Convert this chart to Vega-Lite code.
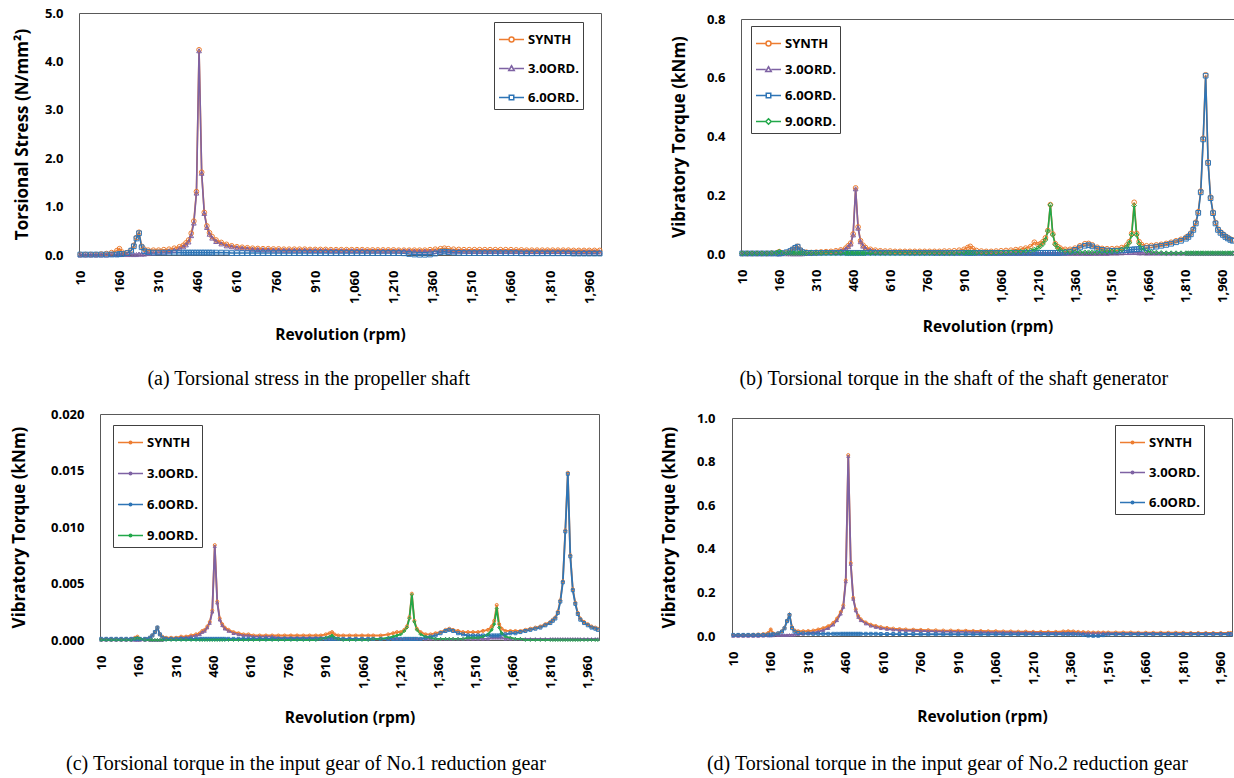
{
"$schema": "https://vega.github.io/schema/vega-lite/v6.json",
"padding": {"left": 9, "top": 6, "right": 0, "bottom": 0},
"background": "white",
"vconcat": [
{"hconcat": [
{"width": 1, "height": 1, "data": {"values": []}, "mark": "point", "encoding": {}, "view": {"stroke": null}},
{"hconcat": [
{
"width": 522, "height": 242,
"data": {"values": [
{"r":10,"S":0.01,"T":0,"X":0.01},{"r":30,"S":0.01,"T":0,"X":0.01},{"r":50,"S":0.01,"T":0,"X":0.01},{"r":70,"S":0.01,"T":0,"X":0.01},{"r":90,"S":0.02,"T":0,"X":0.01},{"r":110,"S":0.03,"T":0,"X":0.01},{"r":130,"S":0.05,"T":0.01,"X":0.01},{"r":150,"S":0.09,"T":0.01,"X":0.01},{"r":160,"S":0.13,"T":0.01,"X":0.02},{"r":170,"S":0.06,"T":0.01,"X":0.02},{"r":190,"S":0.05,"T":0.01,"X":0.04},{"r":205,"S":0.1,"T":0.01,"X":0.09},{"r":215,"S":0.2,"T":0.01,"X":0.18},{"r":225,"S":0.36,"T":0.01,"X":0.34},{"r":235,"S":0.47,"T":0.02,"X":0.45},{"r":245,"S":0.18,"T":0.02,"X":0.16},{"r":255,"S":0.12,"T":0.02,"X":0.08},{"r":270,"S":0.1,"T":0.03,"X":0.06},{"r":290,"S":0.1,"T":0.04,"X":0.05},{"r":310,"S":0.1,"T":0.05,"X":0.05},{"r":330,"S":0.11,"T":0.06,"X":0.05},{"r":350,"S":0.12,"T":0.08,"X":0.05},{"r":370,"S":0.14,"T":0.1,"X":0.05},{"r":390,"S":0.17,"T":0.13,"X":0.05},{"r":405,"S":0.2,"T":0.17,"X":0.05},{"r":415,"S":0.25,"T":0.21,"X":0.05},{"r":425,"S":0.31,"T":0.27,"X":0.05},{"r":435,"S":0.45,"T":0.4,"X":0.05},{"r":445,"S":0.7,"T":0.66,"X":0.05},{"r":455,"S":1.31,"T":1.28,"X":0.05},{"r":465,"S":4.24,"T":4.22,"X":0.05},{"r":475,"S":1.71,"T":1.69,"X":0.05},{"r":485,"S":0.88,"T":0.86,"X":0.05},{"r":495,"S":0.6,"T":0.57,"X":0.05},{"r":505,"S":0.46,"T":0.43,"X":0.05},{"r":515,"S":0.38,"T":0.35,"X":0.05},{"r":530,"S":0.31,"T":0.28,"X":0.05},{"r":550,"S":0.26,"T":0.23,"X":0.05},{"r":570,"S":0.22,"T":0.19,"X":0.05},{"r":590,"S":0.19,"T":0.17,"X":0.04},{"r":610,"S":0.17,"T":0.15,"X":0.04},{"r":630,"S":0.16,"T":0.14,"X":0.04},{"r":650,"S":0.15,"T":0.13,"X":0.04},{"r":670,"S":0.14,"T":0.12,"X":0.04},{"r":690,"S":0.135,"T":0.115,"X":0.04},{"r":710,"S":0.13,"T":0.11,"X":0.04},{"r":730,"S":0.13,"T":0.11,"X":0.04},{"r":750,"S":0.125,"T":0.105,"X":0.04},{"r":770,"S":0.125,"T":0.105,"X":0.04},{"r":790,"S":0.12,"T":0.1,"X":0.04},{"r":810,"S":0.12,"T":0.1,"X":0.04},{"r":830,"S":0.12,"T":0.1,"X":0.04},{"r":850,"S":0.12,"T":0.1,"X":0.04},{"r":870,"S":0.12,"T":0.1,"X":0.04},{"r":890,"S":0.115,"T":0.095,"X":0.04},{"r":910,"S":0.115,"T":0.095,"X":0.04},{"r":930,"S":0.115,"T":0.095,"X":0.04},{"r":950,"S":0.115,"T":0.095,"X":0.04},{"r":970,"S":0.11,"T":0.09,"X":0.04},{"r":990,"S":0.11,"T":0.09,"X":0.04},{"r":1010,"S":0.11,"T":0.09,"X":0.04},{"r":1030,"S":0.11,"T":0.09,"X":0.04},{"r":1050,"S":0.11,"T":0.09,"X":0.04},{"r":1070,"S":0.11,"T":0.09,"X":0.04},{"r":1090,"S":0.11,"T":0.09,"X":0.04},{"r":1110,"S":0.105,"T":0.085,"X":0.04},{"r":1130,"S":0.105,"T":0.085,"X":0.04},{"r":1150,"S":0.105,"T":0.085,"X":0.04},{"r":1170,"S":0.105,"T":0.085,"X":0.04},{"r":1190,"S":0.105,"T":0.085,"X":0.04},{"r":1210,"S":0.105,"T":0.085,"X":0.04},{"r":1230,"S":0.1,"T":0.085,"X":0.04},{"r":1250,"S":0.1,"T":0.085,"X":0.035},{"r":1270,"S":0.1,"T":0.085,"X":0.02},{"r":1290,"S":0.1,"T":0.08,"X":0.01},{"r":1310,"S":0.1,"T":0.08,"X":0.005},{"r":1330,"S":0.1,"T":0.08,"X":0.005},{"r":1350,"S":0.11,"T":0.08,"X":0.01},{"r":1370,"S":0.12,"T":0.08,"X":0.03},{"r":1390,"S":0.13,"T":0.08,"X":0.06},{"r":1405,"S":0.14,"T":0.08,"X":0.07},{"r":1420,"S":0.13,"T":0.08,"X":0.06},{"r":1440,"S":0.12,"T":0.08,"X":0.05},{"r":1460,"S":0.115,"T":0.08,"X":0.045},{"r":1480,"S":0.11,"T":0.08,"X":0.04},{"r":1500,"S":0.11,"T":0.075,"X":0.04},{"r":1520,"S":0.11,"T":0.075,"X":0.04},{"r":1540,"S":0.11,"T":0.075,"X":0.04},{"r":1560,"S":0.11,"T":0.075,"X":0.04},{"r":1580,"S":0.11,"T":0.075,"X":0.04},{"r":1600,"S":0.11,"T":0.075,"X":0.04},{"r":1620,"S":0.11,"T":0.075,"X":0.04},{"r":1640,"S":0.11,"T":0.075,"X":0.04},{"r":1660,"S":0.11,"T":0.075,"X":0.04},{"r":1680,"S":0.105,"T":0.075,"X":0.04},{"r":1700,"S":0.105,"T":0.07,"X":0.035},{"r":1720,"S":0.1,"T":0.07,"X":0.035},{"r":1740,"S":0.1,"T":0.07,"X":0.035},{"r":1760,"S":0.1,"T":0.07,"X":0.035},{"r":1780,"S":0.1,"T":0.07,"X":0.035},{"r":1800,"S":0.1,"T":0.07,"X":0.035},{"r":1820,"S":0.1,"T":0.07,"X":0.035},{"r":1840,"S":0.1,"T":0.07,"X":0.035},{"r":1860,"S":0.1,"T":0.07,"X":0.035},{"r":1880,"S":0.1,"T":0.07,"X":0.035},{"r":1900,"S":0.095,"T":0.065,"X":0.03},{"r":1920,"S":0.095,"T":0.065,"X":0.03},{"r":1940,"S":0.095,"T":0.065,"X":0.03},{"r":1960,"S":0.095,"T":0.065,"X":0.03},{"r":1980,"S":0.095,"T":0.065,"X":0.03},{"r":2000,"S":0.095,"T":0.065,"X":0.03}
]},
"transform": [{"fold": ["S","T","X"], "as": ["k","v"]}],
"title": {"text": "(a) Torsional stress in the propeller shaft", "offset": 26},
"encoding": {
"x": {"field": "r", "type": "quantitative", "scale": {"domain": [5,2005], "nice": false, "zero": false}, "axis": {"values": [10,160,310,460,610,760,910,1060,1210,1360,1510,1660,1810,1960], "format": ",d", "title": "Revolution (rpm)", "titlePadding": 24}},
"y": {"field": "v", "type": "quantitative", "scale": {"domain": [0,5], "nice": false}, "axis": {"values": [0,1,2,3,4,5], "format": ".1f", "title": "Torsional Stress (N/mm²)", "titlePadding": 13}}
},
"layer": [
{"mark": {"type": "line", "strokeWidth": 1.6},
 "encoding": {"color": {"field": "k", "type": "nominal", "scale": {"domain": ["S","T","X"], "range": ["#ED7D31","#7E62A3","#2E75B6"]},
 "legend": {"title": null, "direction": "vertical", "legendX": 415, "legendY": 9, "rowPadding": 8,
  "labelExpr": "datum.label=='S'?'SYNTH':datum.label=='T'?'3.0ORD.':datum.label=='X'?'6.0ORD.':'9.0ORD.'",
  "encode": {"symbols": {"update": {"fill": {"value": "transparent"}, "shape": {"signal": "datum.value=='S'?'M-1,0H-0.22M0.22,0H1M0.2,0A0.2,0.2,0,1,1,-0.2,0A0.2,0.2,0,1,1,0.2,0':datum.value=='T'?'M-1,0H-0.22M0.22,0H1M0,-0.22L0.22,0.16H-0.22Z':datum.value=='X'?'M-1,0H-0.22M0.22,0H1M-0.18,-0.18H0.18V0.18H-0.18Z':'M-1,0H-0.22M0.22,0H1M0,-0.22L0.22,0L0,0.22L-0.22,0Z'"}}}}}}}},
{"transform": [{"filter": "datum.k=='S'"}], "mark": {"type": "point", "shape": "circle", "color": "#ED7D31", "filled": false, "size": 22, "strokeWidth": 1, "opacity": 1}},
{"transform": [{"filter": "datum.k=='T'"}], "mark": {"type": "point", "shape": "triangle-up", "color": "#7E62A3", "filled": false, "size": 22, "strokeWidth": 1, "opacity": 1}},
{"transform": [{"filter": "datum.k=='X'"}], "mark": {"type": "point", "shape": "square", "color": "#2E75B6", "filled": false, "size": 22, "strokeWidth": 1, "opacity": 1}}
]
},
{"spacing": -2, "resolve": {"scale": {"color": "independent"}}, "vconcat": [
{"width": 1, "height": 1, "data": {"values": []}, "mark": "point", "encoding": {}, "view": {"stroke": null}},
{
"width": 493, "height": 235,
"data": {"values": [
{"r":10,"S":0.002,"T":0.001,"X":0.002,"N":0.002},{"r":30,"S":0.002,"T":0.001,"X":0.002,"N":0.002},{"r":50,"S":0.002,"T":0.001,"X":0.002,"N":0.002},{"r":70,"S":0.002,"T":0.001,"X":0.002,"N":0.002},{"r":90,"S":0.002,"T":0.001,"X":0.002,"N":0.002},{"r":110,"S":0.002,"T":0.001,"X":0.002,"N":0.002},{"r":130,"S":0.003,"T":0.001,"X":0.002,"N":0.003},{"r":150,"S":0.004,"T":0.001,"X":0.002,"N":0.004},{"r":160,"S":0.008,"T":0.001,"X":0.002,"N":0.008},{"r":170,"S":0.004,"T":0.001,"X":0.003,"N":0.004},{"r":190,"S":0.005,"T":0.001,"X":0.006,"N":0.003},{"r":205,"S":0.01,"T":0.001,"X":0.01,"N":0.003},{"r":215,"S":0.016,"T":0.001,"X":0.015,"N":0.003},{"r":225,"S":0.022,"T":0.001,"X":0.021,"N":0.003},{"r":235,"S":0.026,"T":0.001,"X":0.025,"N":0.003},{"r":245,"S":0.014,"T":0.001,"X":0.012,"N":0.003},{"r":255,"S":0.008,"T":0.001,"X":0.006,"N":0.003},{"r":270,"S":0.006,"T":0.002,"X":0.004,"N":0.003},{"r":290,"S":0.005,"T":0.002,"X":0.004,"N":0.003},{"r":310,"S":0.006,"T":0.003,"X":0.004,"N":0.003},{"r":330,"S":0.007,"T":0.004,"X":0.004,"N":0.003},{"r":350,"S":0.008,"T":0.005,"X":0.004,"N":0.003},{"r":370,"S":0.009,"T":0.006,"X":0.004,"N":0.003},{"r":390,"S":0.011,"T":0.008,"X":0.004,"N":0.003},{"r":410,"S":0.014,"T":0.011,"X":0.004,"N":0.003},{"r":430,"S":0.02,"T":0.017,"X":0.004,"N":0.003},{"r":440,"S":0.028,"T":0.025,"X":0.004,"N":0.003},{"r":450,"S":0.037,"T":0.034,"X":0.004,"N":0.003},{"r":460,"S":0.068,"T":0.065,"X":0.004,"N":0.003},{"r":470,"S":0.225,"T":0.222,"X":0.004,"N":0.003},{"r":480,"S":0.092,"T":0.088,"X":0.004,"N":0.003},{"r":490,"S":0.045,"T":0.042,"X":0.004,"N":0.003},{"r":500,"S":0.03,"T":0.027,"X":0.004,"N":0.003},{"r":510,"S":0.022,"T":0.019,"X":0.004,"N":0.003},{"r":530,"S":0.016,"T":0.013,"X":0.004,"N":0.003},{"r":550,"S":0.013,"T":0.01,"X":0.004,"N":0.003},{"r":570,"S":0.011,"T":0.008,"X":0.004,"N":0.003},{"r":590,"S":0.01,"T":0.007,"X":0.004,"N":0.003},{"r":610,"S":0.01,"T":0.006,"X":0.004,"N":0.003},{"r":630,"S":0.009,"T":0.005,"X":0.004,"N":0.003},{"r":650,"S":0.009,"T":0.005,"X":0.004,"N":0.003},{"r":670,"S":0.009,"T":0.005,"X":0.004,"N":0.003},{"r":690,"S":0.009,"T":0.004,"X":0.004,"N":0.003},{"r":710,"S":0.009,"T":0.004,"X":0.004,"N":0.003},{"r":730,"S":0.009,"T":0.004,"X":0.004,"N":0.003},{"r":750,"S":0.009,"T":0.004,"X":0.004,"N":0.003},{"r":770,"S":0.009,"T":0.004,"X":0.004,"N":0.003},{"r":790,"S":0.009,"T":0.003,"X":0.004,"N":0.003},{"r":810,"S":0.009,"T":0.003,"X":0.004,"N":0.003},{"r":830,"S":0.01,"T":0.003,"X":0.004,"N":0.003},{"r":850,"S":0.01,"T":0.003,"X":0.004,"N":0.003},{"r":870,"S":0.011,"T":0.003,"X":0.004,"N":0.003},{"r":890,"S":0.013,"T":0.003,"X":0.004,"N":0.004},{"r":910,"S":0.016,"T":0.003,"X":0.004,"N":0.004},{"r":925,"S":0.022,"T":0.003,"X":0.004,"N":0.005},{"r":935,"S":0.026,"T":0.003,"X":0.004,"N":0.005},{"r":945,"S":0.018,"T":0.003,"X":0.004,"N":0.004},{"r":960,"S":0.012,"T":0.003,"X":0.004,"N":0.004},{"r":980,"S":0.01,"T":0.003,"X":0.004,"N":0.004},{"r":1000,"S":0.009,"T":0.002,"X":0.004,"N":0.004},{"r":1020,"S":0.009,"T":0.002,"X":0.004,"N":0.004},{"r":1040,"S":0.01,"T":0.002,"X":0.004,"N":0.004},{"r":1060,"S":0.011,"T":0.002,"X":0.004,"N":0.005},{"r":1080,"S":0.012,"T":0.002,"X":0.004,"N":0.005},{"r":1100,"S":0.013,"T":0.002,"X":0.004,"N":0.006},{"r":1120,"S":0.015,"T":0.002,"X":0.004,"N":0.007},{"r":1140,"S":0.017,"T":0.002,"X":0.004,"N":0.008},{"r":1160,"S":0.02,"T":0.002,"X":0.004,"N":0.01},{"r":1180,"S":0.025,"T":0.002,"X":0.004,"N":0.012},{"r":1195,"S":0.04,"T":0.002,"X":0.004,"N":0.015},{"r":1210,"S":0.032,"T":0.002,"X":0.004,"N":0.02},{"r":1220,"S":0.035,"T":0.002,"X":0.004,"N":0.026},{"r":1230,"S":0.042,"T":0.002,"X":0.004,"N":0.034},{"r":1240,"S":0.055,"T":0.002,"X":0.004,"N":0.048},{"r":1250,"S":0.08,"T":0.002,"X":0.004,"N":0.078},{"r":1260,"S":0.168,"T":0.002,"X":0.004,"N":0.167},{"r":1270,"S":0.068,"T":0.002,"X":0.004,"N":0.065},{"r":1280,"S":0.035,"T":0.002,"X":0.004,"N":0.032},{"r":1290,"S":0.025,"T":0.002,"X":0.004,"N":0.02},{"r":1300,"S":0.02,"T":0.002,"X":0.004,"N":0.014},{"r":1320,"S":0.016,"T":0.002,"X":0.005,"N":0.009},{"r":1340,"S":0.016,"T":0.002,"X":0.008,"N":0.007},{"r":1360,"S":0.02,"T":0.002,"X":0.014,"N":0.006},{"r":1380,"S":0.028,"T":0.002,"X":0.022,"N":0.006},{"r":1400,"S":0.035,"T":0.002,"X":0.028,"N":0.006},{"r":1415,"S":0.036,"T":0.002,"X":0.03,"N":0.006},{"r":1430,"S":0.031,"T":0.002,"X":0.026,"N":0.006},{"r":1450,"S":0.023,"T":0.002,"X":0.018,"N":0.006},{"r":1470,"S":0.019,"T":0.002,"X":0.014,"N":0.007},{"r":1490,"S":0.018,"T":0.002,"X":0.012,"N":0.008},{"r":1510,"S":0.018,"T":0.003,"X":0.011,"N":0.009},{"r":1530,"S":0.019,"T":0.003,"X":0.011,"N":0.011},{"r":1550,"S":0.022,"T":0.004,"X":0.012,"N":0.015},{"r":1570,"S":0.03,"T":0.005,"X":0.013,"N":0.024},{"r":1580,"S":0.042,"T":0.005,"X":0.014,"N":0.038},{"r":1590,"S":0.07,"T":0.005,"X":0.015,"N":0.065},{"r":1600,"S":0.176,"T":0.006,"X":0.016,"N":0.165},{"r":1610,"S":0.07,"T":0.005,"X":0.016,"N":0.065},{"r":1620,"S":0.042,"T":0.004,"X":0.017,"N":0.035},{"r":1630,"S":0.032,"T":0.004,"X":0.018,"N":0.02},{"r":1650,"S":0.028,"T":0.003,"X":0.02,"N":0.01},{"r":1670,"S":0.029,"T":0.003,"X":0.022,"N":0.007},{"r":1690,"S":0.031,"T":0.003,"X":0.025,"N":0.005},{"r":1710,"S":0.033,"T":0.003,"X":0.028,"N":0.004},{"r":1730,"S":0.036,"T":0.003,"X":0.031,"N":0.003},{"r":1750,"S":0.04,"T":0.003,"X":0.035,"N":0.003},{"r":1770,"S":0.045,"T":0.003,"X":0.04,"N":0.003},{"r":1790,"S":0.05,"T":0.003,"X":0.045,"N":0.003},{"r":1810,"S":0.057,"T":0.003,"X":0.052,"N":0.003},{"r":1820,"S":0.062,"T":0.003,"X":0.058,"N":0.003},{"r":1830,"S":0.071,"T":0.003,"X":0.067,"N":0.003},{"r":1840,"S":0.086,"T":0.003,"X":0.082,"N":0.003},{"r":1850,"S":0.108,"T":0.003,"X":0.104,"N":0.003},{"r":1860,"S":0.144,"T":0.003,"X":0.14,"N":0.003},{"r":1870,"S":0.214,"T":0.003,"X":0.21,"N":0.003},{"r":1880,"S":0.394,"T":0.003,"X":0.39,"N":0.003},{"r":1890,"S":0.61,"T":0.003,"X":0.607,"N":0.003},{"r":1900,"S":0.313,"T":0.003,"X":0.31,"N":0.003},{"r":1910,"S":0.193,"T":0.003,"X":0.19,"N":0.003},{"r":1920,"S":0.142,"T":0.003,"X":0.139,"N":0.003},{"r":1930,"S":0.107,"T":0.003,"X":0.104,"N":0.003},{"r":1940,"S":0.085,"T":0.003,"X":0.082,"N":0.003},{"r":1950,"S":0.075,"T":0.003,"X":0.072,"N":0.003},{"r":1960,"S":0.068,"T":0.003,"X":0.065,"N":0.003},{"r":1970,"S":0.061,"T":0.003,"X":0.058,"N":0.003},{"r":1980,"S":0.056,"T":0.003,"X":0.053,"N":0.003},{"r":1990,"S":0.051,"T":0.003,"X":0.048,"N":0.003},{"r":2000,"S":0.048,"T":0.003,"X":0.045,"N":0.003}
]},
"transform": [{"fold": ["S","T","X","N"], "as": ["k","v"]}],
"title": {"text": "(b) Torsional torque in the shaft of the shaft generator", "offset": 34},
"encoding": {
"x": {"field": "r", "type": "quantitative", "scale": {"domain": [5,2005], "nice": false, "zero": false}, "axis": {"values": [10,160,310,460,610,760,910,1060,1210,1360,1510,1660,1810,1960], "format": ",d", "title": "Revolution (rpm)", "titlePadding": 17}},
"y": {"field": "v", "type": "quantitative", "scale": {"domain": [0,0.8], "nice": false}, "axis": {"values": [0,0.2,0.4,0.6,0.8], "format": ".1f", "title": "Vibratory Torque (kNm)", "titlePadding": 18}}
},
"layer": [
{"mark": {"type": "line", "strokeWidth": 1.6},
 "encoding": {"color": {"field": "k", "type": "nominal", "scale": {"domain": ["S","T","X","N"], "range": ["#ED7D31","#7E62A3","#2E75B6","#22A84A"]},
 "legend": {"title": null, "direction": "vertical", "legendX": 10, "legendY": 7, "rowPadding": 5,
  "labelExpr": "datum.label=='S'?'SYNTH':datum.label=='T'?'3.0ORD.':datum.label=='X'?'6.0ORD.':'9.0ORD.'",
  "encode": {"symbols": {"update": {"fill": {"value": "transparent"}, "shape": {"signal": "datum.value=='S'?'M-1,0H-0.22M0.22,0H1M0.2,0A0.2,0.2,0,1,1,-0.2,0A0.2,0.2,0,1,1,0.2,0':datum.value=='T'?'M-1,0H-0.22M0.22,0H1M0,-0.22L0.22,0.16H-0.22Z':datum.value=='X'?'M-1,0H-0.22M0.22,0H1M-0.18,-0.18H0.18V0.18H-0.18Z':'M-1,0H-0.22M0.22,0H1M0,-0.22L0.22,0L0,0.22L-0.22,0Z'"}}}}}}}},
{"transform": [{"filter": "datum.k=='S'"}], "mark": {"type": "point", "shape": "circle", "color": "#ED7D31", "filled": false, "size": 22, "strokeWidth": 1, "opacity": 1}},
{"transform": [{"filter": "datum.k=='T'"}], "mark": {"type": "point", "shape": "triangle-up", "color": "#7E62A3", "filled": false, "size": 22, "strokeWidth": 1, "opacity": 1}},
{"transform": [{"filter": "datum.k=='X'"}], "mark": {"type": "point", "shape": "square", "color": "#2E75B6", "filled": false, "size": 22, "strokeWidth": 1, "opacity": 1}},
{"transform": [{"filter": "datum.k=='N'"}], "mark": {"type": "point", "shape": "diamond", "color": "#22A84A", "filled": false, "size": 22, "strokeWidth": 1, "opacity": 1}}
]
}
]}
], "spacing": 64, "resolve": {"scale": {"color": "independent"}}}
], "spacing": 2, "resolve": {"scale": {"color": "independent"}}},
{"hconcat": [
{"width": 1, "height": 1, "data": {"values": []}, "mark": "point", "encoding": {}, "view": {"stroke": null}},
{"hconcat": [
{
"width": 499, "height": 226,
"data": {"values": [
{"r":10,"S":0.0001,"T":0,"X":0.0001,"N":0},{"r":30,"S":0.0001,"T":0,"X":0.0001,"N":0},{"r":50,"S":0.0001,"T":0,"X":0.0001,"N":0},{"r":70,"S":0.0001,"T":0,"X":0.0001,"N":0},{"r":90,"S":0.0001,"T":0,"X":0.0001,"N":0},{"r":110,"S":0.0001,"T":0,"X":0.0001,"N":0},{"r":130,"S":0.0001,"T":0,"X":0.0001,"N":0},{"r":145,"S":0.0002,"T":0,"X":0.0001,"N":0.0001},{"r":155,"S":0.0003,"T":0,"X":0.0001,"N":0.0002},{"r":165,"S":0.0001,"T":0,"X":0.0001,"N":0.0001},{"r":185,"S":0.0001,"T":0,"X":0.0001,"N":0},{"r":205,"S":0.0002,"T":0,"X":0.0002,"N":0},{"r":215,"S":0.0004,"T":0,"X":0.0004,"N":0},{"r":225,"S":0.0007,"T":0,"X":0.0007,"N":0},{"r":235,"S":0.0011,"T":0,"X":0.0011,"N":0},{"r":245,"S":0.0005,"T":0,"X":0.0005,"N":0},{"r":255,"S":0.0003,"T":0,"X":0.0002,"N":0},{"r":270,"S":0.0002,"T":0.0001,"X":0.0001,"N":0},{"r":290,"S":0.0002,"T":0.0001,"X":0.0001,"N":0},{"r":310,"S":0.0002,"T":0.0001,"X":0.0001,"N":0},{"r":330,"S":0.0003,"T":0.0002,"X":0.0001,"N":0},{"r":350,"S":0.0003,"T":0.0002,"X":0.0001,"N":0},{"r":370,"S":0.0004,"T":0.0003,"X":0.0001,"N":0},{"r":390,"S":0.0005,"T":0.0004,"X":0.0001,"N":0},{"r":405,"S":0.0006,"T":0.0005,"X":0.0001,"N":0},{"r":415,"S":0.0008,"T":0.0007,"X":0.0001,"N":0},{"r":425,"S":0.0009,"T":0.0008,"X":0.0001,"N":0},{"r":435,"S":0.0012,"T":0.0011,"X":0.0001,"N":0},{"r":445,"S":0.0016,"T":0.0015,"X":0.0001,"N":0},{"r":455,"S":0.0026,"T":0.0025,"X":0.0001,"N":0},{"r":465,"S":0.0084,"T":0.0083,"X":0.0001,"N":0},{"r":475,"S":0.0034,"T":0.0033,"X":0.0001,"N":0},{"r":485,"S":0.0019,"T":0.0018,"X":0.0001,"N":0},{"r":495,"S":0.0014,"T":0.0013,"X":0.0001,"N":0},{"r":505,"S":0.0011,"T":0.001,"X":0.0001,"N":0},{"r":520,"S":0.0009,"T":0.0008,"X":0.0001,"N":0},{"r":540,"S":0.0007,"T":0.0006,"X":0.0001,"N":0},{"r":560,"S":0.0006,"T":0.0005,"X":0.0001,"N":0},{"r":580,"S":0.0005,"T":0.0004,"X":0.0001,"N":0},{"r":600,"S":0.0005,"T":0.0004,"X":0.0001,"N":0},{"r":620,"S":0.0004,"T":0.0003,"X":0.0001,"N":0},{"r":645,"S":0.0004,"T":0.0003,"X":0.0001,"N":0},{"r":670,"S":0.0004,"T":0.0003,"X":0.0001,"N":0},{"r":695,"S":0.0004,"T":0.0003,"X":0.0001,"N":0},{"r":720,"S":0.0004,"T":0.0002,"X":0.0001,"N":0},{"r":745,"S":0.0004,"T":0.0002,"X":0.0001,"N":0},{"r":770,"S":0.0004,"T":0.0002,"X":0.0001,"N":0},{"r":795,"S":0.0004,"T":0.0002,"X":0.0001,"N":0},{"r":820,"S":0.0004,"T":0.0002,"X":0.0001,"N":0},{"r":845,"S":0.0004,"T":0.0002,"X":0.0001,"N":0},{"r":870,"S":0.0004,"T":0.0002,"X":0.0001,"N":0},{"r":890,"S":0.0004,"T":0.0002,"X":0.0001,"N":0.0001},{"r":910,"S":0.0005,"T":0.0002,"X":0.0001,"N":0.0002},{"r":925,"S":0.0006,"T":0.0002,"X":0.0001,"N":0.0003},{"r":935,"S":0.0007,"T":0.0002,"X":0.0001,"N":0.0004},{"r":945,"S":0.0005,"T":0.0002,"X":0.0001,"N":0.0002},{"r":960,"S":0.0004,"T":0.0001,"X":0.0001,"N":0.0001},{"r":980,"S":0.0004,"T":0.0001,"X":0.0001,"N":0},{"r":1005,"S":0.0004,"T":0.0001,"X":0.0001,"N":0},{"r":1030,"S":0.0004,"T":0.0001,"X":0.0001,"N":0},{"r":1055,"S":0.0004,"T":0.0001,"X":0.0001,"N":0},{"r":1080,"S":0.0004,"T":0.0001,"X":0.0001,"N":0},{"r":1100,"S":0.0004,"T":0.0001,"X":0.0001,"N":0.0001},{"r":1130,"S":0.0004,"T":0.0001,"X":0.0001,"N":0.0001},{"r":1160,"S":0.0005,"T":0.0001,"X":0.0001,"N":0.0002},{"r":1180,"S":0.0006,"T":0.0001,"X":0.0001,"N":0.0003},{"r":1195,"S":0.0007,"T":0.0001,"X":0.0001,"N":0.0004},{"r":1210,"S":0.0007,"T":0.0001,"X":0.0001,"N":0.0005},{"r":1225,"S":0.0009,"T":0.0001,"X":0.0001,"N":0.0008},{"r":1235,"S":0.0012,"T":0.0001,"X":0.0001,"N":0.0011},{"r":1245,"S":0.002,"T":0.0001,"X":0.0001,"N":0.0019},{"r":1255,"S":0.0041,"T":0.0001,"X":0.0001,"N":0.004},{"r":1265,"S":0.0017,"T":0.0001,"X":0.0001,"N":0.0016},{"r":1275,"S":0.001,"T":0.0001,"X":0.0001,"N":0.0009},{"r":1290,"S":0.0007,"T":0.0001,"X":0.0001,"N":0.0005},{"r":1310,"S":0.0005,"T":0.0001,"X":0.0002,"N":0.0003},{"r":1330,"S":0.0005,"T":0.0001,"X":0.0003,"N":0.0002},{"r":1350,"S":0.0006,"T":0.0001,"X":0.0004,"N":0.0001},{"r":1370,"S":0.0007,"T":0.0001,"X":0.0006,"N":0.0001},{"r":1390,"S":0.0009,"T":0.0001,"X":0.0008,"N":0.0001},{"r":1405,"S":0.001,"T":0.0001,"X":0.0009,"N":0.0001},{"r":1420,"S":0.0009,"T":0.0001,"X":0.0008,"N":0.0001},{"r":1440,"S":0.0008,"T":0.0001,"X":0.0006,"N":0.0001},{"r":1460,"S":0.0007,"T":0.0001,"X":0.0005,"N":0.0001},{"r":1480,"S":0.0007,"T":0.0001,"X":0.0004,"N":0.0002},{"r":1500,"S":0.0007,"T":0.0001,"X":0.0004,"N":0.0002},{"r":1520,"S":0.0007,"T":0.0001,"X":0.0004,"N":0.0002},{"r":1540,"S":0.0008,"T":0.0001,"X":0.0004,"N":0.0003},{"r":1560,"S":0.0009,"T":0.0001,"X":0.0004,"N":0.0005},{"r":1575,"S":0.0012,"T":0.0002,"X":0.0004,"N":0.0009},{"r":1585,"S":0.0017,"T":0.0002,"X":0.0004,"N":0.0014},{"r":1595,"S":0.0031,"T":0.0002,"X":0.0004,"N":0.0028},{"r":1605,"S":0.0014,"T":0.0002,"X":0.0004,"N":0.0011},{"r":1615,"S":0.001,"T":0.0002,"X":0.0005,"N":0.0006},{"r":1630,"S":0.0008,"T":0.0001,"X":0.0005,"N":0.0003},{"r":1650,"S":0.0008,"T":0.0001,"X":0.0006,"N":0.0002},{"r":1670,"S":0.0008,"T":0.0001,"X":0.0006,"N":0.0001},{"r":1690,"S":0.0008,"T":0.0001,"X":0.0007,"N":0.0001},{"r":1710,"S":0.0009,"T":0.0001,"X":0.0008,"N":0},{"r":1730,"S":0.001,"T":0.0001,"X":0.0009,"N":0},{"r":1750,"S":0.0011,"T":0.0001,"X":0.001,"N":0},{"r":1770,"S":0.0012,"T":0.0001,"X":0.0011,"N":0},{"r":1790,"S":0.0014,"T":0.0001,"X":0.0013,"N":0},{"r":1810,"S":0.0016,"T":0.0001,"X":0.0015,"N":0},{"r":1820,"S":0.0018,"T":0.0001,"X":0.0017,"N":0},{"r":1830,"S":0.002,"T":0.0001,"X":0.0019,"N":0},{"r":1840,"S":0.0025,"T":0.0001,"X":0.0024,"N":0},{"r":1850,"S":0.0035,"T":0.0001,"X":0.0034,"N":0},{"r":1860,"S":0.0052,"T":0.0001,"X":0.0051,"N":0},{"r":1870,"S":0.0097,"T":0.0001,"X":0.0096,"N":0},{"r":1880,"S":0.0148,"T":0.0001,"X":0.0147,"N":0},{"r":1890,"S":0.0075,"T":0.0001,"X":0.0074,"N":0},{"r":1900,"S":0.0045,"T":0.0001,"X":0.0044,"N":0},{"r":1910,"S":0.0033,"T":0.0001,"X":0.0032,"N":0},{"r":1920,"S":0.0024,"T":0.0001,"X":0.0023,"N":0},{"r":1930,"S":0.0019,"T":0.0001,"X":0.0018,"N":0},{"r":1945,"S":0.0016,"T":0.0001,"X":0.0015,"N":0},{"r":1960,"S":0.0014,"T":0.0001,"X":0.0013,"N":0},{"r":1975,"S":0.0012,"T":0.0001,"X":0.0011,"N":0},{"r":1990,"S":0.0011,"T":0.0001,"X":0.001,"N":0},{"r":2000,"S":0.001,"T":0.0001,"X":0.0009,"N":0}
]},
"transform": [{"fold": ["S","T","X","N"], "as": ["k","v"]}],
"title": {"text": "(c) Torsional torque in the input gear of No.1 reduction gear", "offset": 28},
"encoding": {
"x": {"field": "r", "type": "quantitative", "scale": {"domain": [5,2005], "nice": false, "zero": false}, "axis": {"values": [10,160,310,460,610,760,910,1060,1210,1360,1510,1660,1810,1960], "format": ",d", "title": "Revolution (rpm)", "titlePadding": 22}},
"y": {"field": "v", "type": "quantitative", "scale": {"domain": [0,0.02], "nice": false}, "axis": {"values": [0,0.005,0.01,0.015,0.02], "format": ".3f", "title": "Vibratory Torque (kNm)", "titlePadding": 22}}
},
"layer": [
{"mark": {"type": "line", "strokeWidth": 1.8},
 "encoding": {"color": {"field": "k", "type": "nominal", "scale": {"domain": ["S","T","X","N"], "range": ["#ED7D31","#7E62A3","#2E75B6","#22A84A"]},
 "legend": {"title": null, "direction": "vertical", "legendX": 13, "legendY": 11, "rowPadding": 10,
  "labelExpr": "datum.label=='S'?'SYNTH':datum.label=='T'?'3.0ORD.':datum.label=='X'?'6.0ORD.':'9.0ORD.'",
  "encode": {"symbols": {"update": {"fill": {"value": "transparent"}, "shape": {"value": "M-1,0H1M0.1,0A0.1,0.1,0,1,1,-0.1,0A0.1,0.1,0,1,1,0.1,0"}}}}}}}},
{"transform": [{"filter": "datum.k=='S'"}], "mark": {"type": "point", "shape": "circle", "color": "#ED7D31", "filled": false, "size": 9, "strokeWidth": 1, "opacity": 1}},
{"transform": [{"filter": "datum.k=='T'"}], "mark": {"type": "point", "shape": "triangle-up", "color": "#7E62A3", "filled": false, "size": 9, "strokeWidth": 1, "opacity": 1}},
{"transform": [{"filter": "datum.k=='X'"}], "mark": {"type": "point", "shape": "square", "color": "#2E75B6", "filled": false, "size": 9, "strokeWidth": 1, "opacity": 1}},
{"transform": [{"filter": "datum.k=='N'"}], "mark": {"type": "point", "shape": "diamond", "color": "#22A84A", "filled": false, "size": 9, "strokeWidth": 1, "opacity": 1}}
]
},
{"spacing": -4, "resolve": {"scale": {"color": "independent"}}, "vconcat": [
{"width": 1, "height": 1, "data": {"values": []}, "mark": "point", "encoding": {}, "view": {"stroke": null}},
{
"width": 500, "height": 218,
"data": {"values": [
{"r":10,"S":0.005,"T":0,"X":0.005},{"r":30,"S":0.005,"T":0,"X":0.005},{"r":50,"S":0.005,"T":0,"X":0.005},{"r":70,"S":0.005,"T":0,"X":0.005},{"r":90,"S":0.006,"T":0,"X":0.005},{"r":110,"S":0.007,"T":0,"X":0.005},{"r":130,"S":0.009,"T":0.001,"X":0.005},{"r":150,"S":0.014,"T":0.002,"X":0.006},{"r":160,"S":0.03,"T":0.002,"X":0.006},{"r":170,"S":0.012,"T":0.003,"X":0.008},{"r":190,"S":0.012,"T":0.004,"X":0.012},{"r":205,"S":0.022,"T":0.004,"X":0.02},{"r":215,"S":0.037,"T":0.004,"X":0.035},{"r":225,"S":0.07,"T":0.004,"X":0.068},{"r":235,"S":0.098,"T":0.005,"X":0.096},{"r":245,"S":0.04,"T":0.005,"X":0.036},{"r":255,"S":0.026,"T":0.006,"X":0.02},{"r":270,"S":0.022,"T":0.008,"X":0.014},{"r":290,"S":0.022,"T":0.01,"X":0.012},{"r":310,"S":0.023,"T":0.013,"X":0.011},{"r":330,"S":0.025,"T":0.016,"X":0.01},{"r":350,"S":0.03,"T":0.02,"X":0.01},{"r":370,"S":0.036,"T":0.027,"X":0.01},{"r":390,"S":0.045,"T":0.036,"X":0.01},{"r":410,"S":0.06,"T":0.052,"X":0.01},{"r":425,"S":0.08,"T":0.072,"X":0.01},{"r":440,"S":0.11,"T":0.102,"X":0.01},{"r":450,"S":0.14,"T":0.133,"X":0.01},{"r":460,"S":0.255,"T":0.25,"X":0.01},{"r":470,"S":0.83,"T":0.825,"X":0.01},{"r":480,"S":0.335,"T":0.33,"X":0.01},{"r":490,"S":0.175,"T":0.17,"X":0.01},{"r":500,"S":0.122,"T":0.117,"X":0.01},{"r":510,"S":0.092,"T":0.087,"X":0.01},{"r":520,"S":0.077,"T":0.072,"X":0.01},{"r":540,"S":0.062,"T":0.057,"X":0.01},{"r":560,"S":0.052,"T":0.047,"X":0.01},{"r":580,"S":0.046,"T":0.041,"X":0.01},{"r":600,"S":0.041,"T":0.036,"X":0.009},{"r":625,"S":0.037,"T":0.032,"X":0.009},{"r":650,"S":0.034,"T":0.029,"X":0.009},{"r":675,"S":0.032,"T":0.027,"X":0.009},{"r":700,"S":0.03,"T":0.025,"X":0.009},{"r":730,"S":0.029,"T":0.024,"X":0.009},{"r":760,"S":0.028,"T":0.023,"X":0.008},{"r":790,"S":0.027,"T":0.022,"X":0.008},{"r":820,"S":0.026,"T":0.021,"X":0.008},{"r":850,"S":0.025,"T":0.02,"X":0.008},{"r":880,"S":0.025,"T":0.02,"X":0.008},{"r":910,"S":0.024,"T":0.019,"X":0.008},{"r":940,"S":0.024,"T":0.019,"X":0.008},{"r":970,"S":0.023,"T":0.018,"X":0.008},{"r":1000,"S":0.023,"T":0.018,"X":0.008},{"r":1030,"S":0.022,"T":0.017,"X":0.008},{"r":1060,"S":0.022,"T":0.017,"X":0.008},{"r":1090,"S":0.021,"T":0.016,"X":0.008},{"r":1120,"S":0.021,"T":0.016,"X":0.008},{"r":1150,"S":0.02,"T":0.015,"X":0.008},{"r":1180,"S":0.02,"T":0.015,"X":0.008},{"r":1210,"S":0.019,"T":0.015,"X":0.008},{"r":1240,"S":0.019,"T":0.014,"X":0.008},{"r":1270,"S":0.019,"T":0.014,"X":0.008},{"r":1300,"S":0.019,"T":0.014,"X":0.008},{"r":1330,"S":0.021,"T":0.014,"X":0.008},{"r":1350,"S":0.022,"T":0.014,"X":0.008},{"r":1370,"S":0.021,"T":0.014,"X":0.008},{"r":1390,"S":0.019,"T":0.014,"X":0.007},{"r":1410,"S":0.018,"T":0.013,"X":0.005},{"r":1430,"S":0.017,"T":0.013,"X":0.002},{"r":1450,"S":0.016,"T":0.013,"X":0.001},{"r":1470,"S":0.016,"T":0.013,"X":0.001},{"r":1490,"S":0.016,"T":0.013,"X":0.004},{"r":1510,"S":0.016,"T":0.013,"X":0.007},{"r":1540,"S":0.016,"T":0.012,"X":0.008},{"r":1570,"S":0.016,"T":0.012,"X":0.008},{"r":1600,"S":0.016,"T":0.012,"X":0.008},{"r":1630,"S":0.015,"T":0.012,"X":0.008},{"r":1660,"S":0.015,"T":0.012,"X":0.008},{"r":1690,"S":0.015,"T":0.012,"X":0.008},{"r":1720,"S":0.015,"T":0.011,"X":0.008},{"r":1750,"S":0.015,"T":0.011,"X":0.008},{"r":1780,"S":0.015,"T":0.011,"X":0.008},{"r":1810,"S":0.015,"T":0.011,"X":0.008},{"r":1840,"S":0.014,"T":0.011,"X":0.008},{"r":1870,"S":0.014,"T":0.011,"X":0.008},{"r":1900,"S":0.014,"T":0.011,"X":0.008},{"r":1930,"S":0.014,"T":0.011,"X":0.008},{"r":1960,"S":0.014,"T":0.011,"X":0.008},{"r":1990,"S":0.014,"T":0.011,"X":0.008},{"r":2000,"S":0.014,"T":0.011,"X":0.008}
]},
"transform": [{"fold": ["S","T","X"], "as": ["k","v"]}],
"title": {"text": "(d) Torsional torque in the input gear of No.2 reduction gear", "offset": 29},
"encoding": {
"x": {"field": "r", "type": "quantitative", "scale": {"domain": [5,2005], "nice": false, "zero": false}, "axis": {"values": [10,160,310,460,610,760,910,1060,1210,1360,1510,1660,1810,1960], "format": ",d", "title": "Revolution (rpm)", "titlePadding": 25}},
"y": {"field": "v", "type": "quantitative", "scale": {"domain": [0,1], "nice": false}, "axis": {"values": [0,0.2,0.4,0.6,0.8,1], "format": ".1f", "title": "Vibratory Torque (kNm)", "titlePadding": 18, "labelPadding": 17}}
},
"layer": [
{"mark": {"type": "line", "strokeWidth": 1.8},
 "encoding": {"color": {"field": "k", "type": "nominal", "scale": {"domain": ["S","T","X"], "range": ["#ED7D31","#7E62A3","#2E75B6"]},
 "legend": {"title": null, "direction": "vertical", "legendX": 383, "legendY": 7, "rowPadding": 9,
  "labelExpr": "datum.label=='S'?'SYNTH':datum.label=='T'?'3.0ORD.':datum.label=='X'?'6.0ORD.':'9.0ORD.'",
  "encode": {"symbols": {"update": {"fill": {"value": "transparent"}, "shape": {"value": "M-1,0H1M0.1,0A0.1,0.1,0,1,1,-0.1,0A0.1,0.1,0,1,1,0.1,0"}}}}}}}},
{"transform": [{"filter": "datum.k=='S'"}], "mark": {"type": "point", "shape": "circle", "color": "#ED7D31", "filled": false, "size": 9, "strokeWidth": 1, "opacity": 1}},
{"transform": [{"filter": "datum.k=='T'"}], "mark": {"type": "point", "shape": "triangle-up", "color": "#7E62A3", "filled": false, "size": 9, "strokeWidth": 1, "opacity": 1}},
{"transform": [{"filter": "datum.k=='X'"}], "mark": {"type": "point", "shape": "square", "color": "#2E75B6", "filled": false, "size": 9, "strokeWidth": 1, "opacity": 1}}
]
}
]}
], "spacing": 57, "resolve": {"scale": {"color": "independent"}}}
], "spacing": 0, "resolve": {"scale": {"color": "independent"}}}
],
"spacing": 17,
"resolve": {"scale": {"color": "independent"}},
"config": {
"view": {"stroke": "#595959", "strokeWidth": 1},
"axis": {"ticks": false, "domain": false, "grid": false, "labelFont": "Open Sans", "labelFontWeight": "bold", "labelFontSize": 13, "labelColor": "#000", "titleFont": "Open Sans", "titleFontWeight": "bold", "titleColor": "#000"},
"axisX": {"labelAngle": 270, "labelPadding": 15, "titleFontSize": 15.5},
"axisY": {"labelPadding": 16, "titleFontSize": 17},
"legend": {"orient": "none", "strokeColor": "#404040", "fillColor": "#ffffff", "padding": 4, "labelFont": "Open Sans", "labelFontWeight": "bold", "labelFontSize": 13, "labelColor": "#000", "labelOffset": 3, "symbolSize": 625, "symbolStrokeWidth": 1.5, "symbolType": "M-1,0H1", "labelLimit": 200},
"title": {"font": "Liberation Serif", "fontSize": 20, "fontWeight": "normal", "color": "#000", "orient": "bottom", "anchor": "middle", "frame": "bounds"}
}
}
